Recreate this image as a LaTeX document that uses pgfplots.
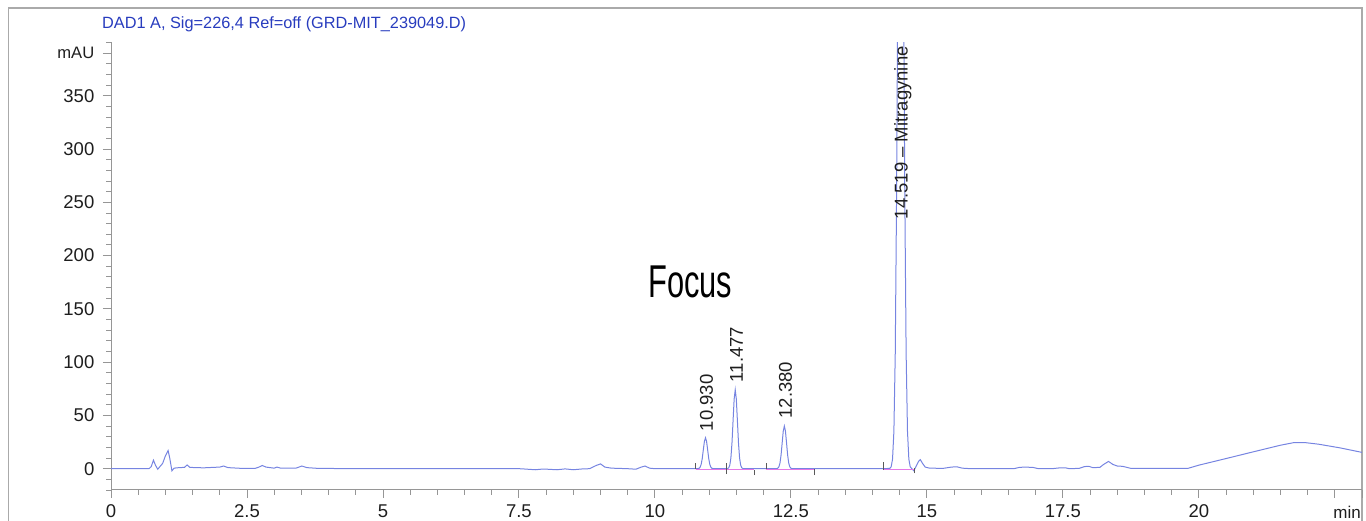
\documentclass[border=0pt]{standalone}
\usepackage{fontspec}
\setmainfont{Liberation Sans}
\usepackage{graphicx}
\usepackage{pgfplots}
\pgfplotsset{compat=1.18}
\definecolor{trace}{RGB}{118,132,225}
\definecolor{titleblue}{RGB}{40,60,190}
\definecolor{axisgray}{RGB}{150,150,150}
\definecolor{framegray}{RGB}{170,170,170}
\definecolor{basepink}{RGB}{230,120,230}
\definecolor{labelcol}{RGB}{30,30,30}
\newcommand{\lblfont}{\fontsize{18.5}{21}\selectfont}

\begin{document}
\begin{tikzpicture}
\useasboundingbox (0,0) rectangle (1366pt,521pt);
% open frame round the whole report panel
\draw[framegray, line width=1.5pt] (8.5pt,0) -- (8.5pt,513pt) -- (1362pt,513pt) -- (1362pt,0);
\node[anchor=base west, inner sep=0, text=titleblue, font=\fontsize{16.3}{19}\selectfont]
  at (102pt,492.7pt) {DAD1 A, Sig=226,4 Ref=off (GRD-MIT\_239049.D)};

\begin{axis}[
    at={(111pt,31pt)}, anchor=south west,
    scale only axis, width=1251pt, height=447.5pt,
    xmin=0, xmax=23, ymin=-20, ymax=400,
    clip mode=individual,
    axis lines=left,
    axis line style={draw=axisgray, line width=1pt, -},
    tick align=outside,
    major tick length=8pt, minor tick length=5pt,
    tick style={draw=axisgray, line width=0.9pt},
    xtick={0,2.5,5,7.5,10,12.5,15,17.5,20,22.5,23},
    xticklabels={0,2.5,5,7.5,10,12.5,15,17.5,20,{},{}},
    minor xtick={0,0.5,...,23},
    ytick={0,50,100,150,200,250,300,350,390},
    yticklabels={0,50,100,150,200,250,300,350,{\fontsize{16.6}{20}\selectfont mAU}},
    minor ytick={-20,-10,...,400},
    ticklabel style={font=\lblfont, text=labelcol},
    xticklabel style={inner sep=0pt, anchor=north, yshift=-6.5pt},
    yticklabel style={inner sep=0pt, anchor=east, xshift=-8.5pt},
]
% chromatogram trace
\addplot[trace, line width=1pt] coordinates {
(0,0) (0.70,0) (0.74,2) (0.78,8) (0.82,3) (0.86,-0.5) (0.90,2) (0.95,5)
(1.00,12) (1.05,17) (1.08,10) (1.12,-2) (1.16,0.5) (1.25,1) (1.35,1.2)
(1.40,3.5) (1.45,1.2) (1.70,0.8) (2.00,1.5) (2.07,2.5) (2.15,1) (2.40,0.3)
(2.65,0.3) (2.72,1.5) (2.78,3) (2.85,1.5) (3.00,0.5) (3.05,1.5) (3.12,0.5)
(3.40,0.5) (3.51,2.5) (3.60,1) (3.80,0.3) (4.5,0) (7.5,0) (7.6,-0.3)
(7.8,-1) (7.95,-0.3) (8.2,-1) (8.35,-0.2) (8.5,-1) (8.65,-0.3) (8.8,0)
(8.92,3) (9.0,4.5) (9.08,1.5) (9.2,0.5) (9.5,0) (9.65,-0.5) (9.75,1.5)
(9.82,2.5) (9.9,0.5) (10.0,0) (10.70,0.1)
(10.79,0.1) (10.81,0.3) (10.83,1.3) (10.85,3.9) (10.87,9.4) (10.89,17.6)
(10.91,25.6) (10.93,29) (10.95,25.6) (10.97,17.6) (10.99,9.4) (11.01,3.9)
(11.03,1.3) (11.05,0.3) (11.07,0.1) (11.2,0)
(11.337,0.16) (11.357,0.82) (11.377,3.25) (11.397,10.0) (11.417,24.0)
(11.437,44.9) (11.457,65.3) (11.477,74) (11.497,65.3) (11.517,44.9)
(11.537,24.0) (11.557,10.0) (11.577,3.25) (11.597,0.82) (11.617,0.16)
(11.8,0) (12.1,0)
(12.24,0.09) (12.26,0.44) (12.28,1.76) (12.30,5.4) (12.32,13.0) (12.34,24.3)
(12.36,35.3) (12.38,40) (12.40,35.3) (12.42,24.3) (12.44,13.0) (12.46,5.4)
(12.48,1.76) (12.50,0.44) (12.52,0.09) (12.7,0) (14.2,0)
(14.319,0.27) (14.344,1.8) (14.369,8.9) (14.394,35) (14.419,108) (14.444,260)
(14.469,485) (14.494,706) (14.519,800) (14.544,706) (14.569,485) (14.594,260)
(14.619,108) (14.644,35) (14.669,8.9) (14.694,1.8) (14.719,0.27)
(14.76,-2) (14.80,2) (14.85,7) (14.88,8.5) (14.92,5) (14.97,1.5) (15.05,0.5)
(15.3,0.3) (15.45,1.5) (15.55,1.8) (15.65,0.5) (15.8,0) (16.6,0) (16.7,1.2)
(16.8,1.5) (16.95,1.2) (17.05,0) (17.3,0) (17.45,0.8) (17.55,0.8) (17.62,0)
(17.8,0.3) (17.9,2) (17.98,2.2) (18.05,1) (18.18,1.2) (18.25,4) (18.34,6.8)
(18.42,4) (18.5,2.5) (18.6,2.2) (18.75,0.3) (19.0,0.3) (19.8,0.3) (20.0,3.3)
(20.5,9.5) (21.0,15.8) (21.5,22) (21.75,24.5) (21.95,24.5) (22.2,23)
(22.6,19.5) (23.0,15.3)
};
% integration baselines
\addplot[basepink, line width=1pt] coordinates {(10.75,-0.3) (11.31,-0.3)};
\addplot[basepink, line width=1pt] coordinates {(11.31,-0.3) (11.83,-0.3)};
\addplot[basepink, line width=1pt] coordinates {(12.05,-0.3) (12.93,-0.3)};
\addplot[basepink, line width=1pt] coordinates {(14.20,-0.3) (14.77,-0.3)};
% integration start / end marks
\addplot[gray!70!black, line width=1pt] coordinates {(10.75,0) (10.75,5.5)};
\addplot[gray!70!black, line width=1pt] coordinates {(11.31,-5) (11.31,5)};
\addplot[gray!70!black, line width=1pt] coordinates {(11.83,-6) (11.83,-1)};
\addplot[gray!70!black, line width=1pt] coordinates {(12.05,0) (12.05,5.5)};
\addplot[gray!70!black, line width=1pt] coordinates {(12.93,-6) (12.93,0)};
\addplot[gray!70!black, line width=1pt] coordinates {(14.20,-1) (14.20,6)};
\addplot[gray!70!black, line width=1pt] coordinates {(14.77,-4.5) (14.77,1)};

% peak labels
\node[rotate=90, anchor=west, inner sep=0, text=labelcol, font=\lblfont]
  at (axis cs:10.95,35) {10.930};
\node[rotate=90, anchor=west, inner sep=0, text=labelcol, font=\lblfont]
  at (axis cs:11.50,81) {11.477};
\node[rotate=90, anchor=west, inner sep=0, text=labelcol, font=\lblfont]
  at (axis cs:12.40,47) {12.380};
\node[rotate=90, anchor=west, inner sep=0, text=labelcol, font=\lblfont]
  at (axis cs:14.56,234) {14.519 -- Mitragynine};
\node[anchor=base east, inner sep=0, text=labelcol, font=\fontsize{17}{20}\selectfont]
  at (axis cs:23,-20) [xshift=-1pt, yshift=-28.5pt] {min};
\end{axis}

\node[anchor=base west, inner sep=0, text=black, font=\fontsize{46}{50}\selectfont]
  at (648pt,223pt) {\scalebox{0.67}[1]{Focus}};
\end{tikzpicture}
\end{document}
